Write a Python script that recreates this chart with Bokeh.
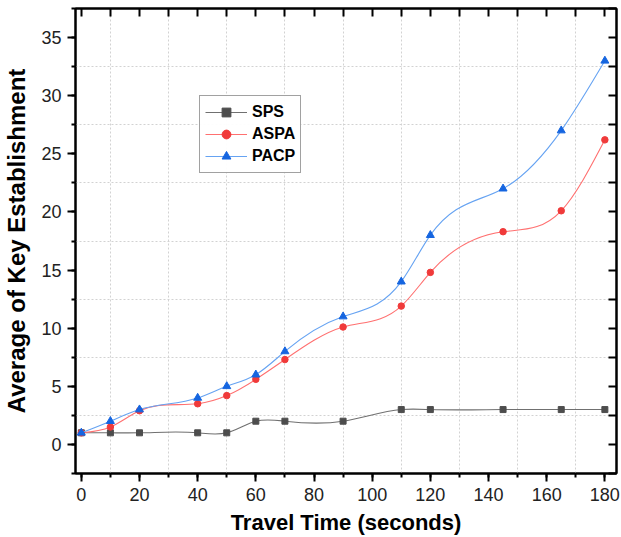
import numpy as np
from bokeh.plotting import figure
from bokeh.models import (LinearAxis, SingleIntervalTicker, FixedTicker, Range1d,
                          Legend, LegendItem, CustomLabelingPolicy, Grid, ColumnDataSource)
from bokeh.embed import file_html
from bokeh.resources import INLINE

# ---- data ----
time_s = [0, 10, 20, 40, 50, 60, 70, 90, 110, 120, 145, 165, 180]
sps = [1, 1, 1, 1, 1, 2, 2, 2, 3, 3, 3, 3, 3]
aspa = [1.0, 1.5, 2.9, 3.5, 4.2, 5.6, 7.3, 10.1, 11.9, 14.8, 18.3, 20.1, 26.2]
pacp = [1, 2, 3, 4, 5, 6, 8, 11, 14, 18, 22, 27, 33]
series_names = ["SPS", "ASPA", "PACP"]
x_label = "Travel Time (seconds)"
y_label = "Average of Key Establishment"

FONT = "Liberation Sans"


def spline_beziers(xs, ys):
    """Natural cubic spline through the points, expressed as Bezier segments."""
    x = np.asarray(xs, float)
    y = np.asarray(ys, float)
    n = len(x)
    h = np.diff(x)
    A = np.zeros((n, n))
    b = np.zeros(n)
    A[0, 0] = 1
    A[-1, -1] = 1
    for i in range(1, n - 1):
        A[i, i - 1] = h[i - 1]
        A[i, i] = 2 * (h[i - 1] + h[i])
        A[i, i + 1] = h[i]
        b[i] = 6 * ((y[i + 1] - y[i]) / h[i] - (y[i] - y[i - 1]) / h[i - 1])
    M = np.linalg.solve(A, b)
    m = np.empty(n)
    m[:-1] = (y[1:] - y[:-1]) / h - h * (2 * M[:-1] + M[1:]) / 6
    m[-1] = (y[-1] - y[-2]) / h[-1] + h[-1] * (M[-2] + 2 * M[-1]) / 6
    return dict(x0=x[:-1], y0=y[:-1], x1=x[1:], y1=y[1:],
                cx0=x[:-1] + h / 3, cy0=y[:-1] + m[:-1] * h / 3,
                cx1=x[1:] - h / 3, cy1=y[1:] - m[1:] * h / 3)


p = figure(width=621, height=537, x_range=Range1d(-2, 184), y_range=Range1d(-2.5, 37.5),
           output_backend="svg", toolbar_location=None,
           min_border_left=70, min_border_right=4, min_border_top=8, min_border_bottom=64,
           background_fill_color="white", border_fill_color="white")
p.outline_line_color = "black"
p.outline_line_width = 2

# grids at minor positions, dashed
p.xgrid.visible = False
p.ygrid.visible = False
p.add_layout(Grid(dimension=0, ticker=FixedTicker(ticks=list(np.arange(10, 180, 20))),
                  grid_line_color="#d2d2d2", grid_line_dash="2 2", grid_line_width=1))
p.add_layout(Grid(dimension=1, ticker=FixedTicker(ticks=list(np.arange(2.5, 37.5, 5))),
                  grid_line_color="#d2d2d2", grid_line_dash="2 2", grid_line_width=1))

# bottom / left axes
xa = p.xaxis[0]
xa.ticker = SingleIntervalTicker(interval=20, num_minor_ticks=2)
ya = p.yaxis[0]
ya.ticker = SingleIntervalTicker(interval=5, num_minor_ticks=2)
for ax in (xa, ya):
    ax.axis_line_width = 2
    ax.axis_line_color = "black"
    ax.major_tick_in = 0
    ax.major_tick_out = 8
    ax.minor_tick_in = 0
    ax.minor_tick_out = 4
    ax.major_tick_line_width = 2
    ax.minor_tick_line_width = 2
    ax.major_tick_line_color = "black"
    ax.minor_tick_line_color = "black"
    ax.major_label_text_font = FONT
    ax.major_label_text_font_size = "18px"
    ax.major_label_text_color = "#222222"
    ax.major_label_standoff = 6
    ax.axis_label_text_font = FONT
    ax.axis_label_text_font_style = "bold"
    ax.axis_label_text_color = "black"
xa.axis_label = x_label
xa.axis_label_text_font_size = "22px"
xa.axis_label_standoff = 6
ya.axis_label = y_label
ya.axis_label_text_font_size = "24px"
ya.axis_label_standoff = 8

no_labels = CustomLabelingPolicy(code="for (const i of indices) { indices.unset(i) } return indices")
top = LinearAxis(ticker=SingleIntervalTicker(interval=10, num_minor_ticks=0),
                 major_tick_in=8, major_tick_out=0, minor_tick_in=0, minor_tick_out=0,
                 major_tick_line_width=2, axis_line_width=2, major_label_standoff=0,
                 major_label_text_font_size="1px", major_label_policy=no_labels)
right = LinearAxis(ticker=SingleIntervalTicker(interval=2.5, num_minor_ticks=0),
                   major_tick_in=8, major_tick_out=0, minor_tick_in=0, minor_tick_out=0,
                   major_tick_line_width=2, axis_line_width=2, major_label_standoff=0,
                   major_label_text_font_size="1px", major_label_policy=no_labels)
p.add_layout(top, "above")
p.add_layout(right, "right")

styles = [
    dict(line="#707070", fill="#4d4d4d", marker="square", size=6),
    dict(line="#ff7070", fill="#f03a3a", marker="circle", size=6.5),
    dict(line="#66a3f2", fill="#1565e0", marker="triangle", size=8),
]
items = []
for name, vals, st in zip(series_names, [sps, aspa, pacp], styles):
    bz = p.bezier(source=ColumnDataSource(spline_beziers(time_s, vals)),
                  x0="x0", y0="y0", x1="x1", y1="y1", cx0="cx0", cy0="cy0", cx1="cx1", cy1="cy1",
                  line_color=st["line"], line_width=1.1)
    sc = p.scatter(time_s, vals, marker=st["marker"], size=st["size"],
                   fill_color=st["fill"], line_color=st["fill"])
    items.append(LegendItem(label=name, renderers=[bz, sc]))

legend = Legend(items=items, location=(124, 300))
legend.label_text_font = FONT
legend.label_text_font_style = "bold"
legend.label_text_font_size = "16px"
legend.label_text_color = "black"
legend.border_line_color = "#444444"
legend.border_line_width = 1
legend.padding = 5
legend.spacing = 0
legend.glyph_width = 42
legend.glyph_height = 22
legend.label_height = 22
legend.label_standoff = 5
legend.margin = 0
p.add_layout(legend)

open("out.html", "w").write(file_html(p, INLINE))
